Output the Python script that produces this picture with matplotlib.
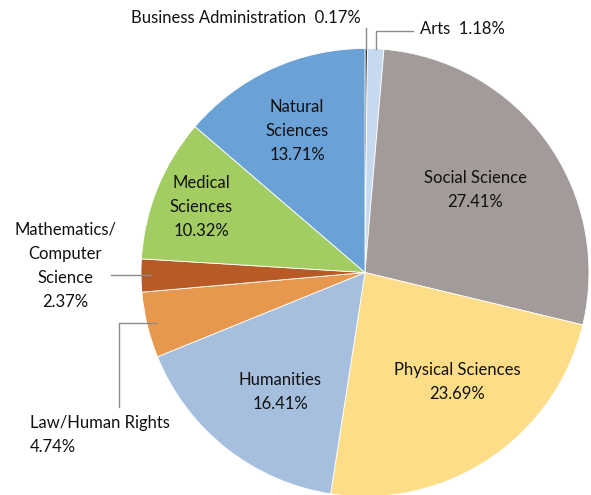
import numpy as np
import matplotlib.pyplot as plt

# ---------------- data ----------------
fields = ["Business Administration", "Arts", "Social Science", "Physical Sciences",
          "Humanities", "Law/Human Rights", "Mathematics/\nComputer\nScience",
          "Medical\nSciences", "Natural\nSciences"]
shares = [0.17, 1.18, 27.41, 23.69, 16.41, 4.74, 2.37, 10.32, 13.71]
colors = ["#151515", "#c6d9ee", "#a29b9a", "#fddd88", "#a6bfdf",
          "#e6984f", "#b85a26", "#a3cd63", "#6aa1d7"]
# --------------------------------------

plt.rcParams['font.family'] = ['Lato', 'DejaVu Sans']
FS = 12
LS = 1.62

W, H = 591, 495
fig = plt.figure(figsize=(W / 100, H / 100), dpi=100)
ax = fig.add_axes([0, 0, 1, 1])

cx, cy, R = 365, 222.5, 224
wedges, _ = ax.pie(shares, colors=colors, startangle=90, counterclock=False,
                   center=(cx, cy), radius=R, frame=True,
                   wedgeprops=dict(edgecolor='white', linewidth=0.6))
ax.set_xlim(0, W)
ax.set_ylim(0, H)
ax.set_aspect('equal')
ax.axis('off')


def pt(w, r):
    a = np.deg2rad((w.theta1 + w.theta2) / 2)
    return cx + r * R * np.cos(a), cy + r * R * np.sin(a)


def lab(i):
    return f"{fields[i]}\n{shares[i]:.2f}%"


# labels inside the slices (image-pixel positions, y from top)
inside = {2: (475, 190), 3: (457, 382), 4: (280, 392), 7: (201, 207), 8: (297, 131)}
for i, (x, y) in inside.items():
    ax.text(x, H - y, lab(i), ha='center', va='center', fontsize=FS,
            linespacing=LS, color='#111111')

lc = '#8c8c8c'
# Business Administration
x0, y0 = pt(wedges[0], 1.0)
ax.plot([x0, x0], [y0, H - 28], color=lc, lw=1)
ax.text(361, H - 18, f"{fields[0]}  {shares[0]:.2f}%", ha='right', va='center',
        fontsize=FS, color='#111111')
# Arts
x0, y0 = pt(wedges[1], 1.0)
ax.plot([x0, x0, 413], [y0, H - 31, H - 31], color=lc, lw=1)
ax.text(420, H - 29, f"{fields[1]}  {shares[1]:.2f}%", ha='left', va='center',
        fontsize=FS, color='#111111')
# Mathematics / Computer Science
x0, y0 = pt(wedges[6], 0.955)
ax.plot([x0, 111], [y0, y0], color=lc, lw=1)
ax.text(65, H - 266, lab(6), ha='center', va='center', fontsize=FS,
        linespacing=LS, color='#111111')
# Law / Human Rights
x0, y0 = pt(wedges[5], 0.96)
ax.plot([x0, 119, 119], [y0, y0, H - 407], color=lc, lw=1)
ax.text(30, H - 435, lab(5), ha='left', va='center', fontsize=FS,
        linespacing=LS, color='#111111')

fig.savefig("out.png", dpi=100)
